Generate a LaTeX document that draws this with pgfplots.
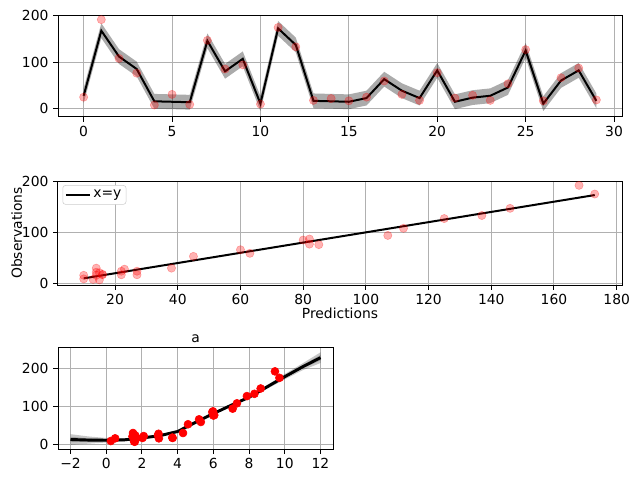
\documentclass[border=0pt]{standalone}
\usepackage{pgfplots}
\pgfplotsset{compat=1.18}
\usepackage{pgfplotstable}
\usepgfplotslibrary{fillbetween}
\usepackage{fontspec}
\setmainfont{DejaVu Sans}

\definecolor{gridgray}{HTML}{B0B0B0}
\definecolor{obsred}{HTML}{FF0000}

% top panel: index, prediction, band, observation
\pgfplotstableread{
x pred lo hi obs
0 27 11 43 24
1 168 152 184 192
2 112 96 128 108
3 85 69 101 76
4 15 -1 31 7
5 14 -2 30 30
6 13 -3 29 8
7 146 130 162 147
8 80 64 96 85
9 107 91 123 94
10 10 -6 26 9
11 173 157 189 175
12 137 121 153 133
13 16 0 32 17
14 15 -1 31 21
15 14 -2 30 16
16 22 6 38 24
17 63 47 79 59
18 38 22 54 30
19 22 6 38 17
20 82 66 98 77
21 14 -2 30 22
22 23 7 39 28
23 27 11 43 17
24 45 29 61 53
25 125 109 141 127
26 10 -6 26 16
27 60 44 76 66
28 82 66 98 87
29 16 0 32 18
}\topdata

% bottom panel: feature value vs observation
\pgfplotstableread{
x obs
0.26 9
0.5 16
1.47 21
1.5 30
1.56 8
1.6 7
1.62 24
1.7 17
2.03 17
2.1 22
2.93 28
2.9 24
2.95 16
3.7 18
3.72 17
4.3 30
4.58 53
5.2 66
5.3 59
5.94 85
5.98 87
6.0 76
6.05 77
7.08 94
7.32 108
7.88 127
8.3 133
8.65 147
9.45 192
9.7 175
}\scatdata

% bottom panel: fitted curve with band
\pgfplotstableread{
x y lo hi mlo mhi
-2 13 -1 27 6 20
-1 11.5 2 21 7 16
0 11 5 17 8 14
1 12 8 16 10 14
2 17 14 20 15.5 18.5
3 23 20 26 21.5 24.5
4 34 31 37 32.5 35.5
5 58 55 61 56.5 59.5
6 81 78 84 79.5 82.5
7 103 100 106 101.5 104.5
8 124 120 128 122 126
9 151 146 156 148.5 153.5
10 178 171 185 174.5 181.5
11 204 195 213 199.5 208.5
12 228 214 242 221 235
}\fitdata

\pgfplotsset{
  mpl/.style={
    scale only axis,
    grid=major,
    grid style={color=gridgray, line width=0.75pt},
    axis line style={line width=0.75pt},
    tick style={black, line width=0.75pt},
    tick align=outside,
    major tick length=3.65pt,
    xtick pos=bottom, ytick pos=left,
    tick label style={font=\fontsize{10.4}{12.5}\selectfont},
    label style={font=\fontsize{10.4}{12.5}\selectfont},
    /pgf/number format/assume math mode=true,
  },
}

\begin{document}
\begin{tikzpicture}
\path (0,0) rectangle (480pt,360pt);

% top: series with band
\begin{axis}[mpl,
  at={(43.5pt,348.75pt)}, anchor=north west,
  width=423pt, height=76.5pt,
  xmin=-1.45, xmax=30.45, ymin=-19, ymax=202,
  xtick={0,5,...,30}, ytick={0,100,200},
]
\addplot[name path=hi, draw=none, forget plot] table[x=x, y=hi] {\topdata};
\addplot[name path=lo, draw=none, forget plot] table[x=x, y=lo] {\topdata};
\addplot[fill=black, fill opacity=0.33, draw=none] fill between[of=hi and lo];
\addplot[black, line width=1.5pt] table[x=x, y=pred] {\topdata};
\addplot[only marks, mark=*, mark size=3.1pt, color=obsred, opacity=0.3] table[x=x, y=obs] {\topdata};
\end{axis}

% middle: observations vs predictions
\begin{axis}[mpl,
  at={(43.5pt,224.25pt)}, anchor=north west,
  width=423pt, height=78pt,
  xmin=1.8, xmax=181.7, ymin=-3, ymax=200.5,
  xtick={20,40,...,180}, ytick={0,100,200},
  xlabel={Predictions}, ylabel={Observations},
  xlabel shift=-4.5pt, ylabel shift=-7pt,
  legend style={at={(0.008,0.96)}, anchor=north west, draw=black!20,
    rounded corners=2pt, font=\fontsize{10.4}{12.5}\selectfont,
    inner sep=1.5pt},
  legend cell align=left,
  legend image code/.code={\draw[#1] (0cm,0cm) -- (0.63cm,0cm);},
]
\addplot[black, line width=1.5pt] coordinates {(10,10) (173,173)};
\addlegendentry{x=y}
\addplot[only marks, mark=*, mark size=3.1pt, color=obsred, opacity=0.3] table[x=pred, y=obs] {\topdata};
\end{axis}

% bottom: fitted curve over feature
\begin{axis}[mpl,
  at={(43.5pt,99.75pt)}, anchor=north west,
  width=206.25pt, height=76.5pt,
  xmin=-2.7, xmax=12.7, ymin=-12, ymax=256,
  xtick={-2,0,...,12}, xticklabels={−2,0,2,4,6,8,10,12},
  ytick={0,100,200},
  title={a}, title style={font=\fontsize{10.4}{12.5}\selectfont, yshift=-6.5pt},
]
\addplot[name path=fhi, draw=none, forget plot] table[x=x, y=hi] {\fitdata};
\addplot[name path=flo, draw=none, forget plot] table[x=x, y=lo] {\fitdata};
\addplot[name path=mhi, draw=none, forget plot] table[x=x, y=mhi] {\fitdata};
\addplot[name path=mlo, draw=none, forget plot] table[x=x, y=mlo] {\fitdata};
\addplot[fill=black, fill opacity=0.22, draw=none] fill between[of=fhi and flo];
\addplot[fill=black, fill opacity=0.2, draw=none] fill between[of=mhi and mlo];
\addplot[only marks, mark=*, mark size=3pt, color=obsred] table[x=x, y=obs] {\scatdata};
\addplot[black, line width=2.2pt] table[x=x, y=y] {\fitdata};
\end{axis}
\end{tikzpicture}
\end{document}
